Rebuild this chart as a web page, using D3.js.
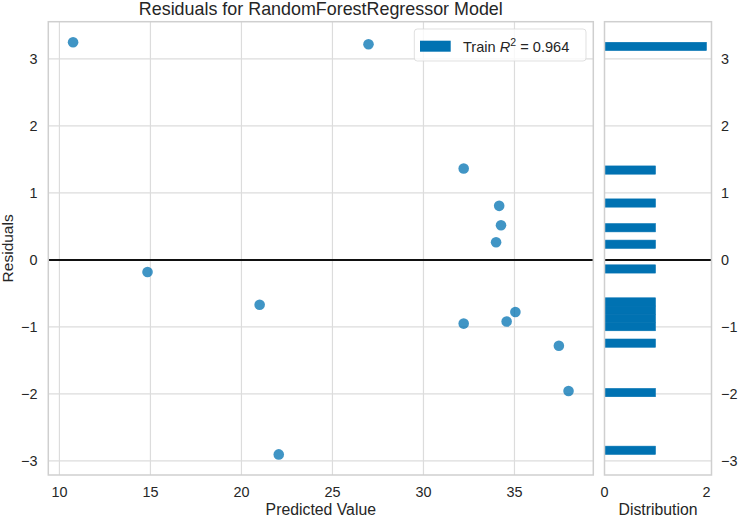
<!DOCTYPE html>
<html>
<head>
<meta charset="utf-8">
<script src="https://cdn.jsdelivr.net/npm/d3@7"></script>
<style>
  body { margin: 0; background: #fff; }
  text { font-family: "Liberation Sans", Arial, sans-serif; fill: #262626; }
</style>
</head>
<body>
<div id="viz"></div>
<script>
// data
const predicted = [10.75, 26.98, 32.21, 34.16, 34.26, 33.99, 14.84, 21.0, 32.21, 34.57, 35.05, 37.44, 37.97, 22.05];
const residuals = [3.247, 3.217, 1.365, 0.807, 0.518, 0.264, -0.18, -0.67, -0.95, -0.92, -0.777, -1.28, -1.957, -2.902];
const xTicks = [10, 15, 20, 25, 30, 35];
const yTicks = [-3, -2, -1, 0, 1, 2, 3];
const distTicks = [0, 2];
const trainScore = "0.964";

const width = 738, height = 518;
const main = {left: 48.3, right: 593.3, top: 21.7, bottom: 475};
const dist = {left: 604.5, right: 711.5};
const blue = "#0072B2";
const fmt = d => d < 0 ? "\u2212" + Math.abs(d) : String(d);

// matplotlib style 5% margins
function padded(ext) {
    let m = (ext[1] - ext[0]) * 0.05;
    return [ext[0] - m, ext[1] + m];
}

const x = d3.scaleLinear().domain(padded(d3.extent(predicted))).range([main.left, main.right]);
const y = d3.scaleLinear().domain(padded(d3.extent(residuals))).range([main.bottom, main.top]);
const xd = d3.scaleLinear().domain([0, 2.1]).range([dist.left, dist.right]);

// histogram, 50 bins across the residual range
const rExt = d3.extent(residuals);
const step = (rExt[1] - rExt[0]) / 50;
const bins = d3.bin().domain(rExt)
    .thresholds(d3.range(1, 50).map(i => rExt[0] + i * step))(residuals);

const svg = d3.select("#viz").append("svg").attr("width", width).attr("height", height);
svg.append("rect").attr("width", width).attr("height", height).attr("fill", "#fff");

// grid
const grid = svg.append("g").attr("stroke", "#dcdcdc").attr("stroke-width", 1.2);
grid.selectAll(".gx").data(xTicks).enter().append("line")
    .attr("x1", d => x(d)).attr("x2", d => x(d))
    .attr("y1", main.top).attr("y2", main.bottom);
grid.selectAll(".gy").data(yTicks).enter().append("line")
    .attr("x1", main.left).attr("x2", main.right)
    .attr("y1", d => y(d)).attr("y2", d => y(d));
grid.selectAll(".gd").data(yTicks).enter().append("line")
    .attr("x1", dist.left).attr("x2", dist.right)
    .attr("y1", d => y(d)).attr("y2", d => y(d));

// histogram bars
svg.append("g").selectAll("rect").data(bins.filter(b => b.length > 0)).enter().append("rect")
    .attr("x", xd(0))
    .attr("y", d => y(d.x1))
    .attr("width", d => xd(d.length) - xd(0))
    .attr("height", d => y(d.x0) - y(d.x1))
    .attr("fill", blue).attr("stroke", blue).attr("stroke-width", 0.6);

// zero lines
svg.append("line").attr("x1", main.left).attr("x2", main.right)
    .attr("y1", y(0)).attr("y2", y(0)).attr("stroke", "#111").attr("stroke-width", 2);
svg.append("line").attr("x1", dist.left).attr("x2", dist.right)
    .attr("y1", y(0)).attr("y2", y(0)).attr("stroke", "#111").attr("stroke-width", 2);

// points
svg.append("g").selectAll("circle").data(predicted).enter().append("circle")
    .attr("cx", d => x(d))
    .attr("cy", (d, i) => y(residuals[i]))
    .attr("r", 5.3)
    .attr("fill", blue).attr("fill-opacity", 0.75);

// frames
svg.append("rect").attr("x", main.left).attr("y", main.top)
    .attr("width", main.right - main.left).attr("height", main.bottom - main.top)
    .attr("fill", "none").attr("stroke", "#cfcfcf").attr("stroke-width", 1.5);
svg.append("rect").attr("x", dist.left).attr("y", main.top)
    .attr("width", dist.right - dist.left).attr("height", main.bottom - main.top)
    .attr("fill", "none").attr("stroke", "#cfcfcf").attr("stroke-width", 1.5);

// tick labels
svg.selectAll(".xt").data(xTicks).enter().append("text")
    .attr("x", d => x(d)).attr("y", 497).attr("text-anchor", "middle")
    .attr("font-size", 14.4).text(fmt);
svg.selectAll(".yt").data(yTicks).enter().append("text")
    .attr("x", 37.5).attr("y", d => y(d) + 5).attr("text-anchor", "end")
    .attr("font-size", 14.4).text(fmt);
svg.selectAll(".dt").data(distTicks).enter().append("text")
    .attr("x", d => xd(d)).attr("y", 497).attr("text-anchor", "middle")
    .attr("font-size", 14.4).text(fmt);
svg.selectAll(".rt").data(yTicks).enter().append("text")
    .attr("x", 721).attr("y", d => y(d) + 5).attr("text-anchor", "start")
    .attr("font-size", 14.4).text(fmt);

// titles and axis labels
svg.append("text").attr("x", (main.left + main.right) / 2).attr("y", 14.5)
    .attr("text-anchor", "middle").attr("font-size", 17.9)
    .text("Residuals for RandomForestRegressor Model");
svg.append("text").attr("x", (main.left + main.right) / 2).attr("y", 515)
    .attr("text-anchor", "middle").attr("font-size", 15.8).text("Predicted Value");
svg.append("text").attr("x", (dist.left + dist.right) / 2).attr("y", 515)
    .attr("text-anchor", "middle").attr("font-size", 15.8).text("Distribution");
svg.append("text").attr("transform", "translate(12.5," + (main.top + main.bottom) / 2 + ") rotate(-90)")
    .attr("text-anchor", "middle").attr("font-size", 15.5).text("Residuals");

// legend
const legend = svg.append("g");
legend.append("rect").attr("x", 414.3).attr("y", 29).attr("width", 171.7).attr("height", 32)
    .attr("rx", 3).attr("fill", "#fff").attr("fill-opacity", 0.8)
    .attr("stroke", "#d8d8d8").attr("stroke-opacity", 0.8);
legend.append("rect").attr("x", 420).attr("y", 40.7).attr("width", 30.7).attr("height", 11)
    .attr("fill", blue);
const lt = legend.append("text").attr("x", 463).attr("y", 51.5).attr("font-size", 14.6);
lt.append("tspan").text("Train ");
lt.append("tspan").attr("font-style", "italic").text("R");
lt.append("tspan").attr("dy", -6).attr("font-size", 10.5).text("2");
lt.append("tspan").attr("dy", 6).text(" = " + trainScore);
</script>
</body>
</html>
